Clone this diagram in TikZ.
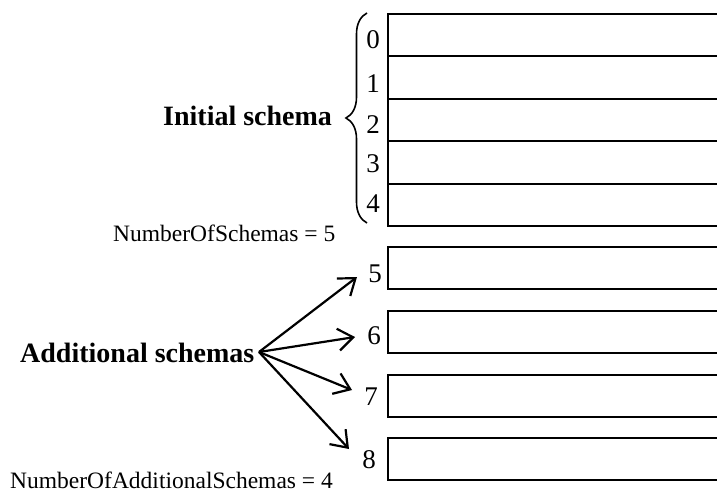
\documentclass[tikz,border=0pt]{standalone}
\usepackage{fontspec}
\setmainfont{Liberation Serif}
\usetikzlibrary{arrows.meta,decorations.pathreplacing}
\begin{document}
\begin{tikzpicture}[x=1pt,y=-1pt,
  slot/.style={draw,line width=2pt,rectangle,anchor=north west,
    minimum width=360pt,inner sep=0pt,outer sep=0pt},
  idx/.style={anchor=base,inner sep=0pt,font=\fontsize{27}{27}\selectfont},
  title/.style={anchor=base west,inner sep=0pt,font=\fontsize{28}{28}\selectfont\bfseries},
  note/.style={anchor=base west,inner sep=0pt,font=\fontsize{23.5}{23.5}\selectfont},
  pointer/.style={line width=2.2pt,-{Straight Barb[length=15pt,width=22pt,line width=2.2pt]}}]
\useasboundingbox (0,0) rectangle (717,498);
\clip (0,0) rectangle (717,498);

% initial schema table, five rows
\node[slot,minimum height=42.5pt] (r0) at (388,13.5) {};
\node[slot,minimum height=42.5pt] (r1) at (388,56) {};
\node[slot,minimum height=42.5pt] (r2) at (388,98.5) {};
\node[slot,minimum height=42.5pt] (r3) at (388,141) {};
\node[slot,minimum height=42.5pt] (r4) at (388,183.5) {};

% additional schema rows
\node[slot,minimum height=42pt] (r5) at (388,247) {};
\node[slot,minimum height=42pt] (r6) at (388,311) {};
\node[slot,minimum height=42pt] (r7) at (388,374.5) {};
\node[slot,minimum height=42pt] (r8) at (388,438) {};

% row indices
\node[idx] (d0) at (373,48) {0};
\node[idx] (d1) at (373,92) {1};
\node[idx] (d2) at (373,133) {2};
\node[idx] (d3) at (373,172) {3};
\node[idx] (d4) at (373,212) {4};
\node[idx] (d5) at (375,282) {5};
\node[idx] (d6) at (374,344) {6};
\node[idx] (d7) at (371,405) {7};
\node[idx] (d8) at (369,468) {8};

% brace around the initial rows
\coordinate (bt) at (367,13);
\coordinate (bb) at (367,223);
\draw[line width=1.6pt,decorate,decoration={brace,amplitude=21pt,aspect=0.5}] (bb) -- (bt);

% labels
\node[title] (init) at (163,125) {Initial schema};
\node[title] (add) at (20,362) {Additional schemas};
\node[note] (nos) at (113,241) {NumberOfSchemas = 5};
\node[note] (noa) at (10,488) {NumberOfAdditionalSchemas = 4};

% arrows from the additional-schemas label
\coordinate (src) at (259,352);
\coordinate (t5) at (357,277);
\coordinate (t6) at (355,337);
\coordinate (t7) at (352,390);
\coordinate (t8) at (349,449);
\draw[pointer] (src) -- (t5);
\draw[pointer] (src) -- (t6);
\draw[pointer] (src) -- (t7);
\draw[pointer] (src) -- (t8);
\end{tikzpicture}
\end{document}
